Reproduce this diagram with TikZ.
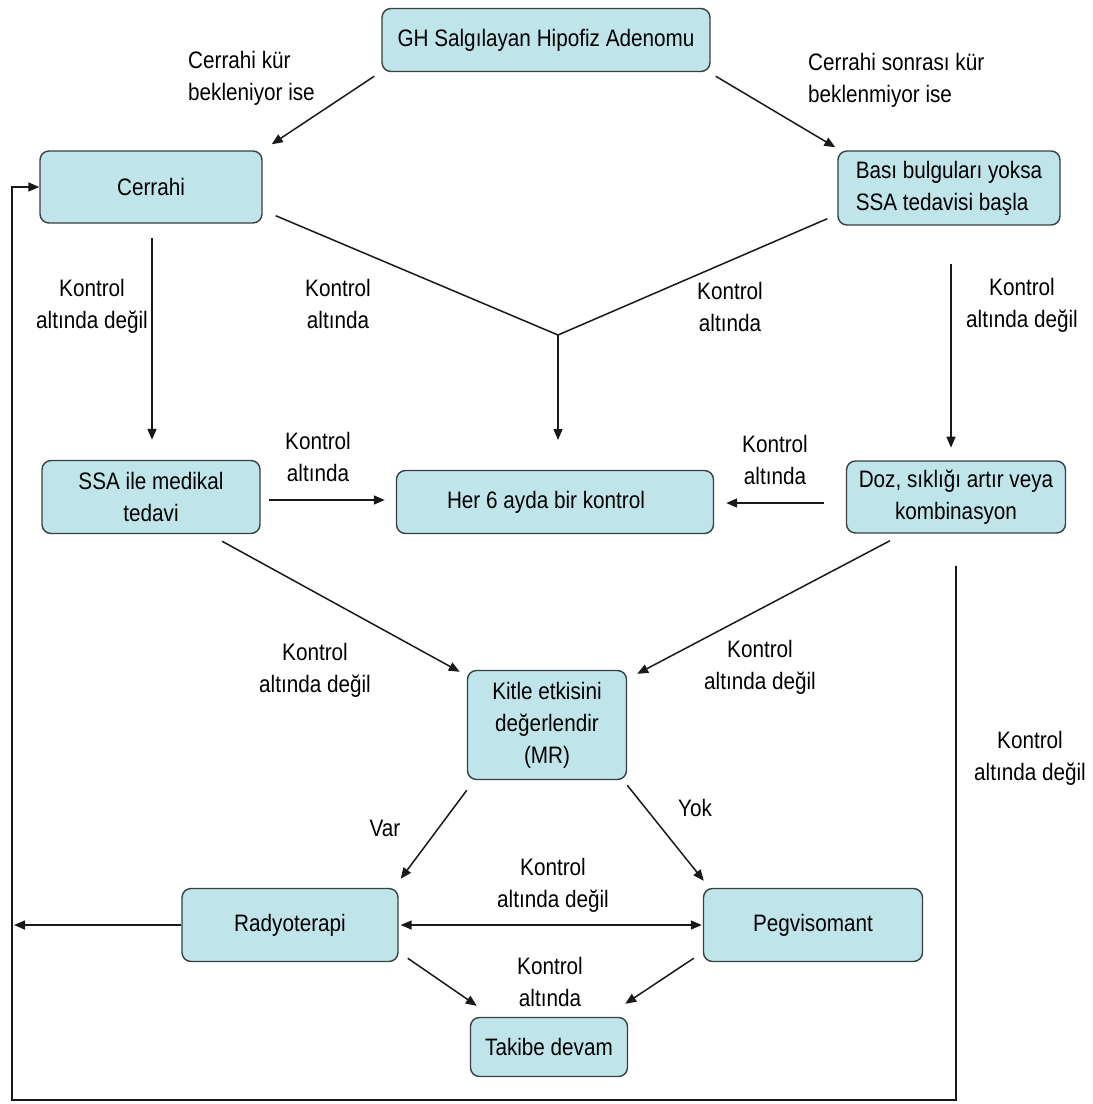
\documentclass[tikz,border=0pt]{standalone}
\usepackage{fontspec}
\setmainfont{Liberation Sans}[FakeStretch=0.87]
\usetikzlibrary{arrows.meta,calc}
\definecolor{boxc}{RGB}{191,228,233}
\definecolor{boxline}{RGB}{55,65,65}
\begin{document}
\begin{tikzpicture}[x=1pt,y=-1pt,
  font=\fontsize{23.8}{32}\selectfont,
  box/.style={draw=boxline,fill=boxc,rounded corners=9pt,line width=1.4pt,inner sep=0pt,align=center},
  lbl/.style={inner sep=0pt,align=center},
  conn/.style={line width=1.5pt,draw=black!90},
  arr/.style={conn,-{Triangle[length=11pt,width=9pt]}},
  darr/.style={conn,{Triangle[length=11pt,width=9pt]}-{Triangle[length=11pt,width=9pt]}}]
\useasboundingbox[fill=white] (0,0) rectangle (1093,1104);

% boxes
\node[box,minimum width=328pt,minimum height=63pt] (gh) at (546,40) {GH Salgılayan Hipofiz Adenomu};
\node[box,minimum width=222pt,minimum height=72pt] (cer) at (151,187) {Cerrahi};
\node[box,minimum width=222pt,minimum height=74pt] (bas) at (949,188) {\begin{tabular}{@{}l@{}}Bası bulguları yoksa\\SSA tedavisi başla\end{tabular}};
\node[box,minimum width=218pt,minimum height=73pt] (ssa) at (151,497) {SSA ile medikal\\tedavi};
\node[box,minimum width=317pt,minimum height=63pt] (her) at (555,502) {\hspace*{-18pt}Her 6 ayda bir kontrol};
\node[box,minimum width=219pt,minimum height=72pt] (doz) at (956,497) {Doz, sıklığı artır veya\\kombinasyon};
\node[box,minimum width=159pt,minimum height=109pt] (kit) at (547,725) {Kitle etkisini\\değerlendir\\(MR)};
\node[box,minimum width=216pt,minimum height=73pt] (rad) at (290,925) {Radyoterapi};
\node[box,minimum width=219pt,minimum height=73pt] (peg) at (813,925) {Pegvisomant};
\node[box,minimum width=157pt,minimum height=59pt] (tak) at (549,1047) {Takibe devam};

% helper coordinates
\coordinate (m) at (558,335);
\coordinate (mend) at (558,440);
\coordinate (lend) at (14,925);
\coordinate (fb1) at (956,1100);
\coordinate (fb2) at (12,1100);
\coordinate (fb3) at (12,187);

% connectors
\draw[arr] ($(gh.south west)+(-7,4)$) -- ($(cer.north east)+(9,-6)$);
\draw[arr] ($(gh.south east)+(5,4)$) -- ($(bas.north west)+(-2,-3)$);
\draw[conn] ($(cer.south east)+(13,-8)$) -- (m) -- ($(bas.south west)+(-10,-7)$);
\draw[arr] (m) -- (mend);
\draw[arr] ($(cer.south)+(1,14)$) -- ($(ssa.north)+(1,-20)$);
\draw[arr] ($(bas.south)+(2,38)$) -- ($(bas.south)+(2,222)$);
\draw[arr] ($(ssa.east)+(8,3)$) -- ($(her.west)+(-11,-2)$);
\draw[arr] ($(doz.west)+(-22,6)$) -- ($(her.east)+(12,1)$);
\draw[arr] ($(ssa.south)+(71,7)$) -- ($(kit.north west)+(-7,2)$);
\draw[arr] ($(doz.south)+(-66,7)$) -- ($(kit.north east)+(10,4)$);
\draw[arr] ($(kit.south west)+(0,10)$) -- ($(rad.north east)+(2,-9)$);
\draw[arr] ($(kit.south east)+(0,5)$) -- ($(peg.north west)+(1,-7)$);
\draw[darr] ($(rad.east)+(2,0)$) -- ($(peg.west)+(-1,0)$);
\draw[arr] ($(rad.south east)+(9,-4)$) -- ($(tak.north west)+(7,-11)$);
\draw[arr] ($(peg.south west)+(-9,-4)$) -- ($(tak.north east)+(-3,-13)$);
\draw[arr] (rad.west) -- (lend);
\draw[arr] ($(doz.south)+(0,32)$) -- (fb1) -- (fb2) -- (fb3) -- (cer.west);

% labels
\node[lbl,anchor=west,align=left] (l1) at (188,78) {Cerrahi kür\\bekleniyor ise};
\node[lbl,anchor=west,align=left] (l2) at (808,80) {Cerrahi sonrası kür\\beklenmiyor ise};
\node[lbl] (l3) at (92,306) {Kontrol\\altında değil};
\node[lbl] (l4) at (338,304) {Kontrol\\altında};
\node[lbl] (l5) at (730,307) {Kontrol\\altında};
\node[lbl] (l6) at (1022,305) {Kontrol\\altında değil};
\node[lbl] (l7) at (318,457) {Kontrol\\altında};
\node[lbl] (l8) at (775,460) {Kontrol\\altında};
\node[lbl] (l9) at (315,670) {Kontrol\\altında değil};
\node[lbl] (l10) at (760,667) {Kontrol\\altında değil};
\node[lbl] (l11) at (385,828) {Var};
\node[lbl] (l12) at (695,808) {Yok};
\node[lbl] (l13) at (553,885) {Kontrol\\altında değil};
\node[lbl] (l14) at (550,982) {Kontrol\\altında};
\node[lbl] (l15) at (1030,758) {Kontrol\\altında değil};
\end{tikzpicture}
\end{document}
